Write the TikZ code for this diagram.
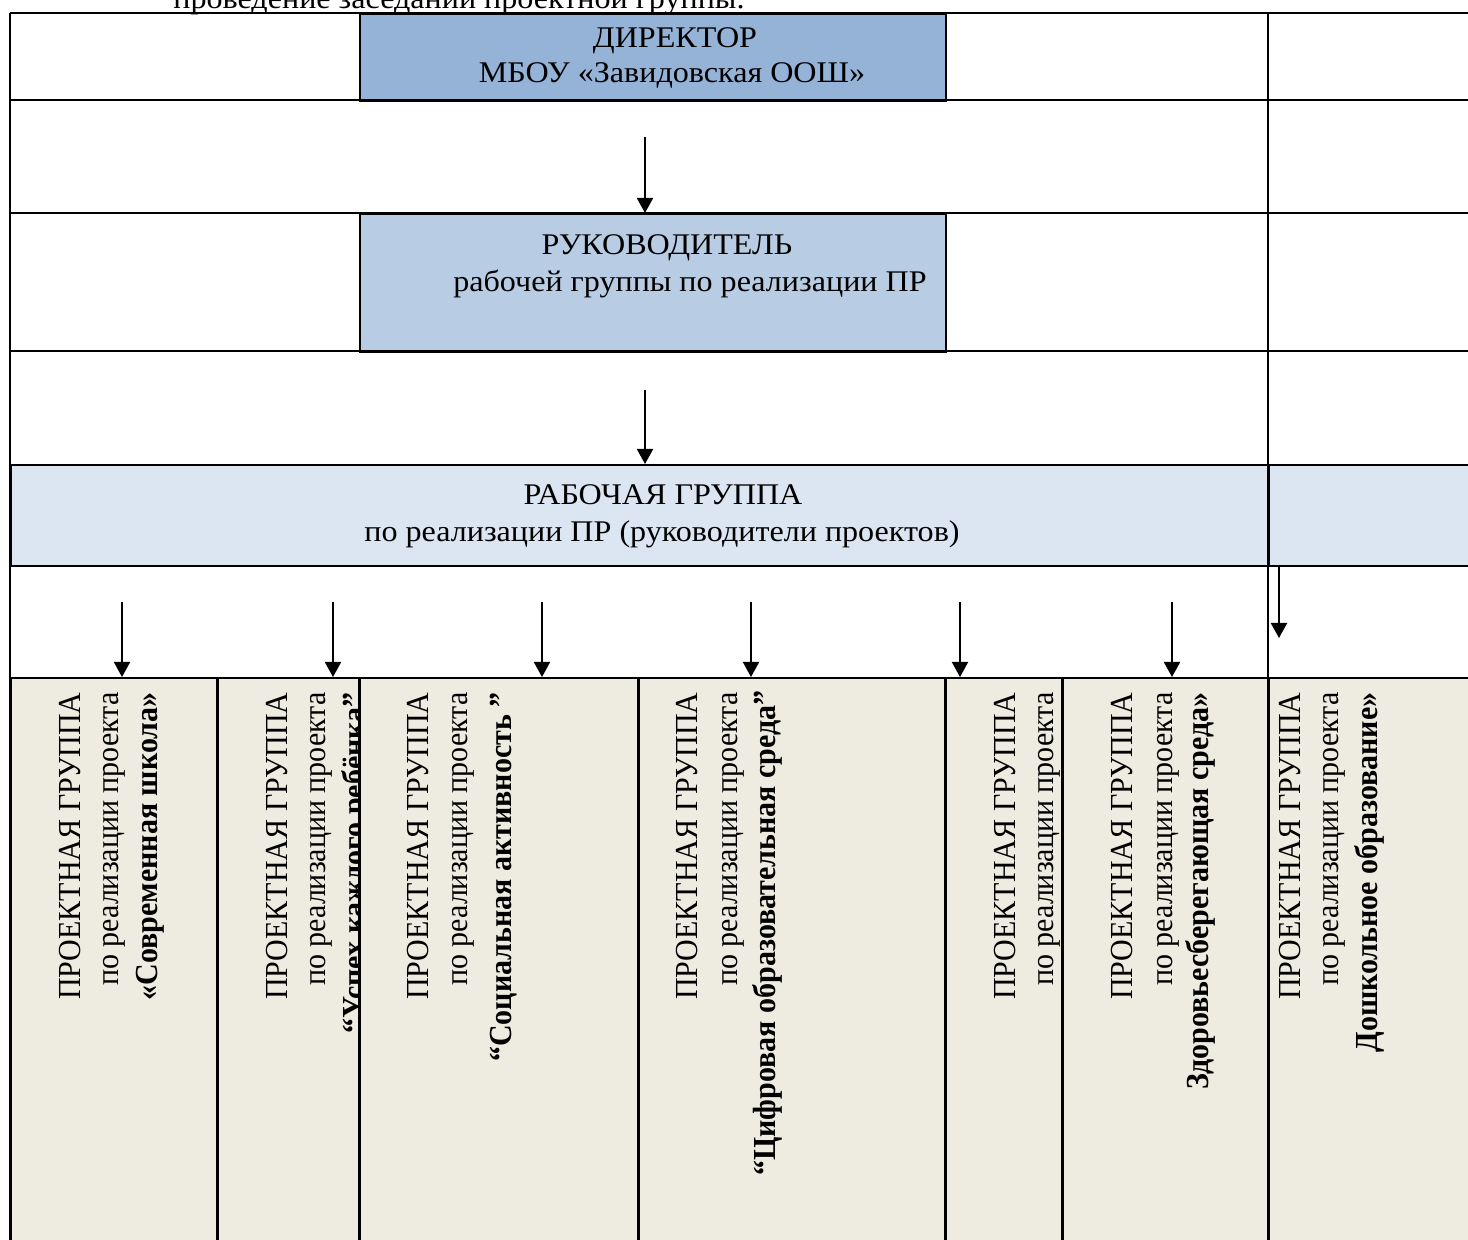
\documentclass[tikz,border=0pt]{standalone}
\usepackage{fontspec}
\setmainfont{Liberation Serif}
\usetikzlibrary{arrows.meta}
\definecolor{dirblue}{HTML}{95B3D7}
\definecolor{rukblue}{HTML}{B8CCE4}
\definecolor{grpblue}{HTML}{DCE6F2}
\definecolor{cellbeige}{HTML}{EEECE1}
\begin{document}
\begin{tikzpicture}[x=0.5pt,y=-0.5pt,
  grid/.style={line width=1pt, draw=black},
  cellbox/.style={draw=black, line width=1pt, inner sep=0pt, anchor=north west},
  txt/.style={font=\fontsize{15}{18}\selectfont, inner sep=0pt, xscale=1.07},
  vtxt/.style={txt, rotate=90, anchor=base east},
  vbold/.style={vtxt, font=\fontsize{15}{18}\selectfont\bfseries},
  arr/.style={line width=1pt, -{Triangle[width=8pt,length=7.5pt]}}]
\useasboundingbox (0,0) rectangle (1468,1240);

% partly visible line above the table
\node[txt, anchor=base west] (intro) at (173,9) {проведение заседаний проектной группы.};

% top boxes
\node[cellbox, fill=dirblue, minimum width=293pt, minimum height=43.5pt] (dir) at (359,13) {};
\node[txt, anchor=base] (dirA) at (675,48) {ДИРЕКТОР};
\node[txt, anchor=base] (dirB) at (672,83) {МБОУ «Завидовская ООШ»};

\node[cellbox, fill=rukblue, minimum width=293pt, minimum height=69pt] (ruk) at (359,213) {};
\node[txt, anchor=base] (rukA) at (667,255) {РУКОВОДИТЕЛЬ};
\node[txt, anchor=base] (rukB) at (690,292) {рабочей группы по реализации ПР};

\node[cellbox, fill=grpblue, minimum width=629pt, minimum height=50.5pt] (grp) at (10,464) {};
\node[cellbox, fill=grpblue, minimum width=106pt, minimum height=50.5pt] (grpR) at (1268,464) {};
\node[txt, anchor=base] (grpA) at (663,505) {РАБОЧАЯ ГРУППА};
\node[txt, anchor=base] (grpB) at (662,542) {по реализации ПР (руководители проектов)};

% project group cells
\node[cellbox, fill=cellbeige, minimum width=103.5pt, minimum height=287.5pt] (pg1) at (10,677) {};
\node[vtxt] (p1a) at (80,692) {ПРОЕКТНАЯ ГРУППА};
\node[vtxt] (p1b) at (118,692) {по реализации проекта};
\node[vbold] (p1c) at (157,692) {«Современная школа»};

\node[cellbox, fill=cellbeige, minimum width=71pt, minimum height=287.5pt] (pg2) at (217,677) {};
\node[vtxt] (p2a) at (287,692) {ПРОЕКТНАЯ ГРУППА};
\node[vtxt] (p2b) at (325,692) {по реализации проекта};
\node[vbold] (p2c) at (364,692) {“Успех каждого ребёнка”};

\node[cellbox, fill=cellbeige, minimum width=139.5pt, minimum height=287.5pt] (pg3) at (359,677) {};
\node[vtxt] (p3a) at (428,692) {ПРОЕКТНАЯ ГРУППА};
\node[vtxt] (p3b) at (467,692) {по реализации проекта};
\node[vbold] (p3c) at (511,692) {“Социальная активность ”};

\node[cellbox, fill=cellbeige, minimum width=153.5pt, minimum height=287.5pt] (pg4) at (638,677) {};
\node[vtxt] (p4a) at (697,692) {ПРОЕКТНАЯ ГРУППА};
\node[vtxt] (p4b) at (737,692) {по реализации проекта};
\node[vbold] (p4c) at (775,690) {“Цифровая образовательная среда”};

\node[cellbox, fill=cellbeige, minimum width=58.5pt, minimum height=287.5pt] (pg5) at (945,677) {};
\node[vtxt] (p5a) at (1015,692) {ПРОЕКТНАЯ ГРУППА};
\node[vtxt] (p5b) at (1053,692) {по реализации проекта};

\node[cellbox, fill=cellbeige, minimum width=103pt, minimum height=287.5pt] (pg6) at (1062,677) {};
\node[vtxt] (p6a) at (1132,692) {ПРОЕКТНАЯ ГРУППА};
\node[vtxt] (p6b) at (1172,692) {по реализации проекта};
\node[vbold] (p6c) at (1208,692) {Здоровьесберегающая среда»};

\node[cellbox, fill=cellbeige, minimum width=106pt, minimum height=287.5pt] (pg7) at (1268,677) {};
\node[vtxt] (p7a) at (1300,692) {ПРОЕКТНАЯ ГРУППА};
\node[vtxt] (p7b) at (1338,692) {по реализации проекта};
\node[vbold] (p7c) at (1377,692) {Дошкольное образование»};

% table grid
\draw[grid] (10,13) -- (1480,13);
\draw[grid] (10,100) -- (1480,100);
\draw[grid] (10,213) -- (1480,213);
\draw[grid] (10,351) -- (1480,351);
\draw[grid] (10,13) -- (10,1252);
\draw[grid] (1268,13) -- (1268,1252);
\draw[grid] (217,677) -- (217,1252);
\draw[grid] (359,677) -- (359,1252);
\draw[grid] (638,677) -- (638,1252);
\draw[grid] (945,677) -- (945,1252);
\draw[grid] (1062,677) -- (1062,1252);

% arrows
\coordinate (a1) at (645,137);
\draw[arr] (a1) -- (a1 |- ruk.north);
\coordinate (a2) at (645,390);
\draw[arr] (a2) -- (a2 |- grp.north);
\coordinate (b1) at (122,602);
\draw[arr] (b1) -- (b1 |- pg1.north);
\coordinate (b2) at (333,602);
\draw[arr] (b2) -- (b2 |- pg2.north);
\coordinate (b3) at (542,602);
\draw[arr] (b3) -- (b3 |- pg3.north);
\coordinate (b4) at (751,602);
\draw[arr] (b4) -- (b4 |- pg4.north);
\coordinate (b5) at (960,602);
\draw[arr] (b5) -- (b5 |- pg5.north);
\coordinate (b6) at (1172,602);
\draw[arr] (b6) -- (b6 |- pg6.north);
\coordinate (b7) at (1279,638);
\draw[arr] (grpR.south -| b7) -- (b7);
\end{tikzpicture}
\end{document}
